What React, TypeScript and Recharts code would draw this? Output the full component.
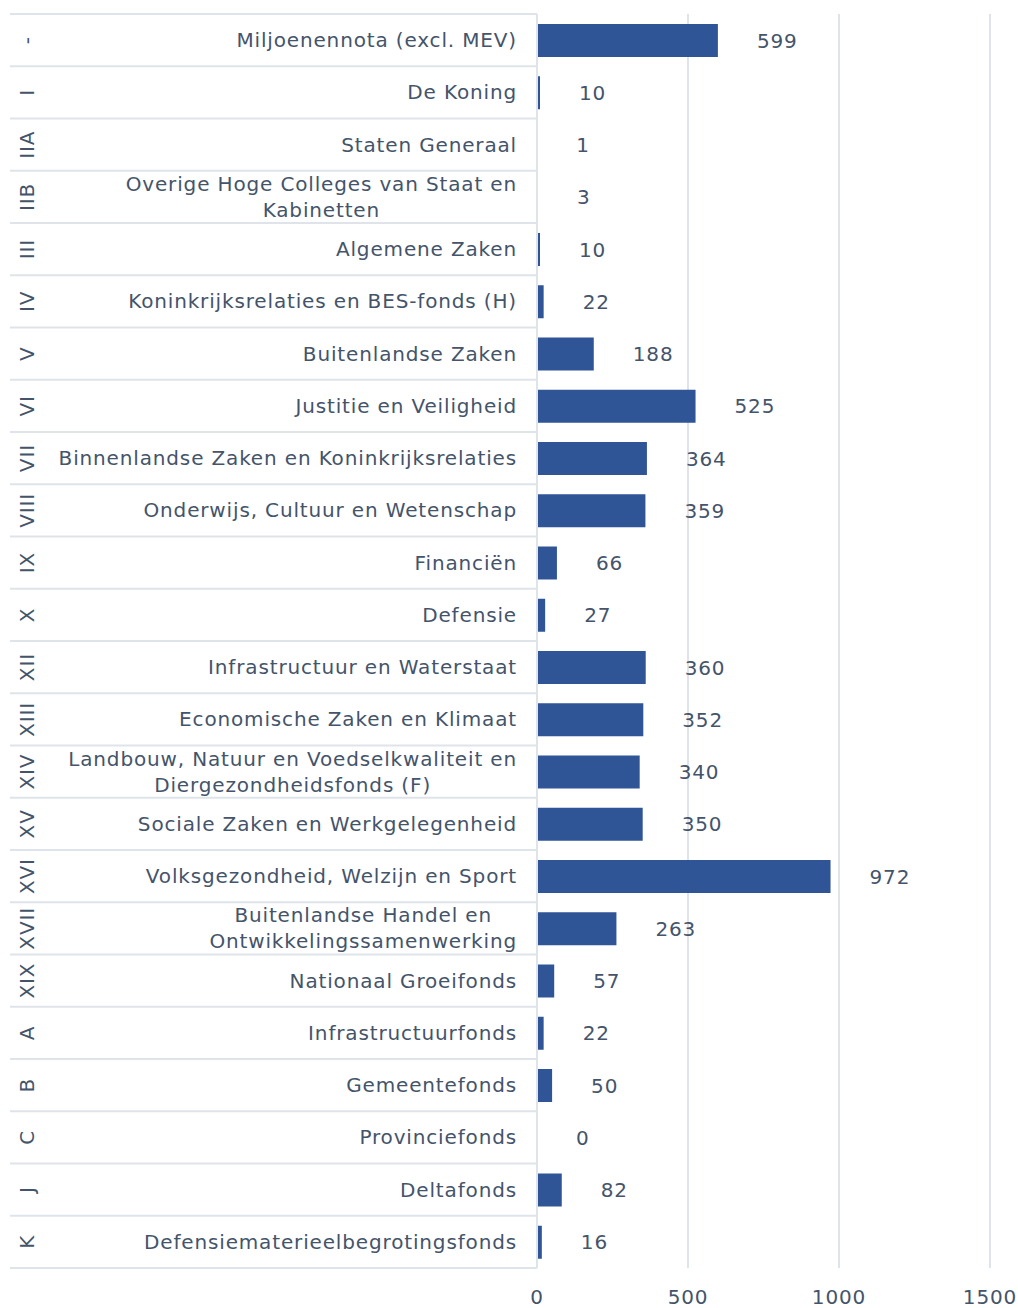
import React from "react";
import { Bar, BarChart, CartesianGrid, LabelList, XAxis, YAxis } from "recharts";

const numerals = [
  "-", "I", "IIA", "IIB", "III", "IV", "V", "VI", "VII", "VIII", "IX", "X",
  "XII", "XIII", "XIV", "XV", "XVI", "XVII", "XIX", "A", "B", "C", "J", "K",
];

const names = [
  "Miljoenennota (excl. MEV)",
  "De Koning",
  "Staten Generaal",
  "Overige Hoge Colleges van Staat en\nKabinetten",
  "Algemene Zaken",
  "Koninkrijksrelaties en BES-fonds (H)",
  "Buitenlandse Zaken",
  "Justitie en Veiligheid",
  "Binnenlandse Zaken en Koninkrijksrelaties",
  "Onderwijs, Cultuur en Wetenschap",
  "Financiën",
  "Defensie",
  "Infrastructuur en Waterstaat",
  "Economische Zaken en Klimaat",
  "Landbouw, Natuur en Voedselkwaliteit en\nDiergezondheidsfonds (F)",
  "Sociale Zaken en Werkgelegenheid",
  "Volksgezondheid, Welzijn en Sport",
  "Buitenlandse Handel en\nOntwikkelingssamenwerking",
  "Nationaal Groeifonds",
  "Infrastructuurfonds",
  "Gemeentefonds",
  "Provinciefonds",
  "Deltafonds",
  "Defensiematerieelbegrotingsfonds",
];

const values = [
  599, 10, 1, 3, 10, 22, 188, 525, 364, 359, 66, 27, 360, 352, 340, 350, 972,
  263, 57, 22, 50, 0, 82, 16,
];

const xTicks = [0, 500, 1000, 1500];

// label as string so a zero still gets printed
const data = names.map((name, i) => ({
  name,
  num: numerals[i],
  value: values[i],
  label: String(values[i]),
}));

const W = 1018;
const H = 1308;
const MARGIN = { top: 14, right: 28, bottom: 0, left: 10 };
const X_AXIS_H = 40;
const NUM_W = 28;
const NAME_W = 499;
const ROW_H = (H - MARGIN.top - X_AXIS_H) / names.length;

const INK = "#44546A";
const BAR = "#2F5597";
const GRID = "#DFE3EA";
const FONT = "'DejaVu Sans', Verdana, sans-serif";
const FS = 20;
// DejaVu is a bit narrower than the Verdana-like face in the original
const LS = 0.85;

let ctx: CanvasRenderingContext2D | null = null;
function textWidth(s: string): number {
  if (!ctx) {
    ctx = document.createElement("canvas").getContext("2d");
  }
  if (!ctx) return s.length * FS * 0.6;
  ctx.font = `${FS}px ${FONT}`;
  return ctx.measureText(s).width + s.length * LS;
}

function NameTick(props: any) {
  const { x, y, payload, index } = props;
  const lines: string[] = String(payload.value).split("\n");
  const right = x - 20;
  const left = MARGIN.left;
  const top = y - ROW_H / 2;
  const isLast = index === names.length - 1;
  let textEl;
  if (lines.length === 1) {
    textEl = (
      <text x={right} y={y} dy="0.35em" textAnchor="end" fill={INK} fontSize={FS} fontFamily={FONT} letterSpacing={LS}>
        {lines[0]}
      </text>
    );
  } else {
    const maxW = Math.max(...lines.map(textWidth));
    const cx = right - maxW / 2;
    const lh = 26;
    const y0 = y - ((lines.length - 1) * lh) / 2;
    textEl = (
      <text textAnchor="middle" fill={INK} fontSize={FS} fontFamily={FONT} letterSpacing={LS}>
        {lines.map((l, i) => (
          <tspan key={i} x={cx} y={y0 + i * lh} dy="0.35em">
            {l}
          </tspan>
        ))}
      </text>
    );
  }
  return (
    <g>
      <line x1={left} x2={x} y1={top} y2={top} stroke={GRID} strokeWidth={2} />
      {isLast && (
        <line x1={left} x2={x} y1={top + ROW_H} y2={top + ROW_H} stroke={GRID} strokeWidth={2} />
      )}
      {textEl}
    </g>
  );
}

function NumTick(props: any) {
  const { x, y, payload } = props;
  const cx = x - 11;
  return (
    <text
      x={cx}
      y={y}
      dy="0.35em"
      textAnchor="middle"
      fill={INK}
      fontSize={FS}
      fontFamily={FONT}
      letterSpacing={LS}
      transform={`rotate(-90 ${cx} ${y})`}
    >
      {payload.value}
    </text>
  );
}

export default function App() {
  return (
    <div style={{ position: "absolute", left: 0, top: 0, width: W, height: H, background: "#fff", fontFamily: FONT }}>
      <BarChart width={W} height={H} data={data} layout="vertical" margin={MARGIN}>
        <CartesianGrid horizontal={false} stroke={GRID} strokeWidth={2} />
        <XAxis
          type="number"
          domain={[0, 1500]}
          ticks={xTicks}
          height={X_AXIS_H}
          axisLine={false}
          tickLine={false}
          tickMargin={16}
          tick={{ fill: INK, fontSize: FS, fontFamily: FONT, letterSpacing: LS }}
        />
        <YAxis
          yAxisId="name"
          type="category"
          dataKey="name"
          width={NAME_W}
          interval={0}
          tickSize={0}
          tickMargin={0}
          tickLine={false}
          axisLine={{ stroke: GRID, strokeWidth: 2 }}
          tick={<NameTick />}
        />
        <YAxis
          yAxisId="num"
          type="category"
          dataKey="num"
          width={NUM_W}
          interval={0}
          tickSize={0}
          tickMargin={0}
          tickLine={false}
          axisLine={false}
          tick={<NumTick />}
        />
        <Bar
          dataKey="value"
          yAxisId="name"
          fill={BAR}
          barSize={33}
          minPointSize={(v: any) => (v === 0 ? 0.01 : 0)}
          isAnimationActive={false}
        >
          <LabelList
            dataKey="label"
            position="right"
            offset={39}
            fill={INK}
            fontSize={FS}
            fontFamily={FONT}
            letterSpacing={LS}
          />
        </Bar>
      </BarChart>
    </div>
  );
}
